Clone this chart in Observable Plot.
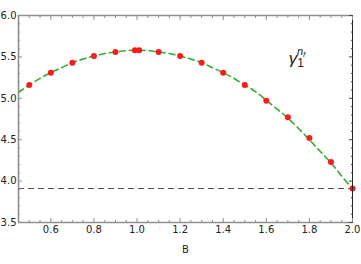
<!DOCTYPE html>
<html><head><meta charset="utf-8">
<script src="https://cdn.jsdelivr.net/npm/d3@7"></script>
<script src="https://cdn.jsdelivr.net/npm/@observablehq/plot@0.6"></script>
<style>body{margin:0;background:#fff;} svg{display:block;}</style>
</head><body><div id="chart"></div>
<script>
// red points
const pointB = [0.5, 0.6, 0.7, 0.8, 0.9, 0.99, 1.01, 1.1, 1.2, 1.3, 1.4, 1.5, 1.6, 1.7, 1.8, 1.9, 2.0];
const pointGamma = [5.16, 5.31, 5.43, 5.51, 5.56, 5.58, 5.58, 5.56, 5.51, 5.43, 5.31, 5.16, 4.97, 4.77, 4.52, 4.23, 3.91];
// green dashed curve
const curveB = [0.45, 0.5, 0.55, 0.6, 0.65, 0.7, 0.75, 0.8, 0.85, 0.9, 0.95, 1.0, 1.05, 1.1, 1.15, 1.2, 1.25, 1.3, 1.35, 1.4, 1.45, 1.5, 1.55, 1.6, 1.65, 1.7, 1.75, 1.8, 1.85, 1.9, 1.95, 2.0];
const curveGamma = [5.07, 5.16, 5.24, 5.31, 5.37, 5.43, 5.475, 5.51, 5.54, 5.56, 5.575, 5.58, 5.575, 5.56, 5.54, 5.51, 5.475, 5.43, 5.37, 5.31, 5.24, 5.16, 5.08, 4.975, 4.87, 4.76, 4.635, 4.50, 4.36, 4.22, 4.06, 3.91];
// horizontal reference
const refGamma = [3.91];
// ticks
const xMajor = [0.6, 0.8, 1.0, 1.2, 1.4, 1.6, 1.8, 2.0];
const xMinor = [0.45,0.5,0.55,0.65,0.7,0.75,0.85,0.9,0.95,1.05,1.1,1.15,1.25,1.3,1.35,1.45,1.5,1.55,1.65,1.7,1.75,1.85,1.9,1.95];
const yMajor = [3.5, 4.0, 4.5, 5.0, 5.5, 6.0];
const yMinor = [3.6,3.7,3.8,3.9,4.1,4.2,4.3,4.4,4.6,4.7,4.8,4.9,5.1,5.2,5.3,5.4,5.6,5.7,5.8,5.9];
const xDomain = [0.45, 2.0];
const yDomain = [3.5, 6.0];

const pts = pointB.map((b, i) => ({b, g: pointGamma[i]}));
const crv = curveB.map((b, i) => ({b, g: curveGamma[i]}));
const blank = () => "";
const frameGray = "#8f8f8f";
const fmt = d3.format(".1f");

const chart = Plot.plot({
  width: 361, height: 264,
  marginLeft: 18, marginRight: 9, marginTop: 15, marginBottom: 42,
  style: {fontFamily: "DejaVu Sans, Verdana, sans-serif", fontSize: "10px", color: "#222", background: "#fff"},
  x: {domain: xDomain},
  y: {domain: yDomain},
  marks: [
    Plot.ruleY(refGamma, {stroke: "#555", strokeWidth: 1.1, strokeDasharray: "6,4"}),
    Plot.line(crv, {x: "b", y: "g", stroke: "#2fae2f", strokeWidth: 1.6, strokeDasharray: "6,4", curve: "natural"}),
    Plot.dot(pts, {x: "b", y: "g", r: 3, fill: "#ff1a1a", stroke: "none"}),
    // frame
    Plot.ruleX([xDomain[0]], {stroke: frameGray, strokeWidth: 1.6}),
    Plot.ruleY([yDomain[0]], {stroke: frameGray, strokeWidth: 1.6}),
    Plot.ruleY([yDomain[1]], {stroke: frameGray, strokeWidth: 1.6}),
    Plot.ruleX([xDomain[1]], {stroke: "#222", strokeWidth: 1}),
    // bottom axis
    Plot.axisX({anchor: "bottom", ticks: xMajor, tickSize: -4, tickPadding: 7, tickFormat: fmt, stroke: frameGray, fill: "#222", label: null}),
    Plot.axisX({anchor: "bottom", ticks: xMinor, tickSize: -2, tickFormat: blank, stroke: frameGray, label: null}),
    Plot.axisX({anchor: "top", ticks: xMajor, tickSize: -4, tickFormat: blank, stroke: frameGray, label: null}),
    Plot.axisX({anchor: "top", ticks: xMinor, tickSize: -2, tickFormat: blank, stroke: frameGray, label: null}),
    // left axis
    Plot.axisY({anchor: "left", ticks: yMajor, tickSize: -4, tickPadding: 6, tickFormat: fmt, stroke: frameGray, fill: "#222", label: null}),
    Plot.axisY({anchor: "left", ticks: yMinor, tickSize: -2, tickFormat: blank, stroke: frameGray, label: null}),
    Plot.axisY({anchor: "right", ticks: yMajor, tickSize: -4, tickFormat: blank, stroke: "#444", label: null}),
    Plot.axisY({anchor: "right", ticks: yMinor, tickSize: -2, tickFormat: blank, stroke: "#444", label: null}),
    Plot.text(["B"], {frameAnchor: "bottom", lineAnchor: "middle", dy: 27, fill: "#222", fontSize: 10})
  ]
});
document.getElementById("chart").appendChild(chart);

// gamma label with sub/superscript
const svg = d3.select(chart);
const t = svg.append("text").attr("x", 297).attr("y", 64)
  .attr("font-family", "Liberation Sans, Arial, sans-serif").attr("fill", "#222");
t.append("tspan").attr("font-style", "italic").attr("font-size", 17).text("γ");
t.append("tspan").attr("font-size", 12).attr("dy", 3).text("1");
t.append("tspan").attr("font-style", "italic").attr("font-size", 11).attr("dx", -7).attr("dy", -12).text("n");
t.append("tspan").attr("font-style", "italic").attr("font-size", 8).attr("dy", 2).text("f");
</script>
</body></html>
